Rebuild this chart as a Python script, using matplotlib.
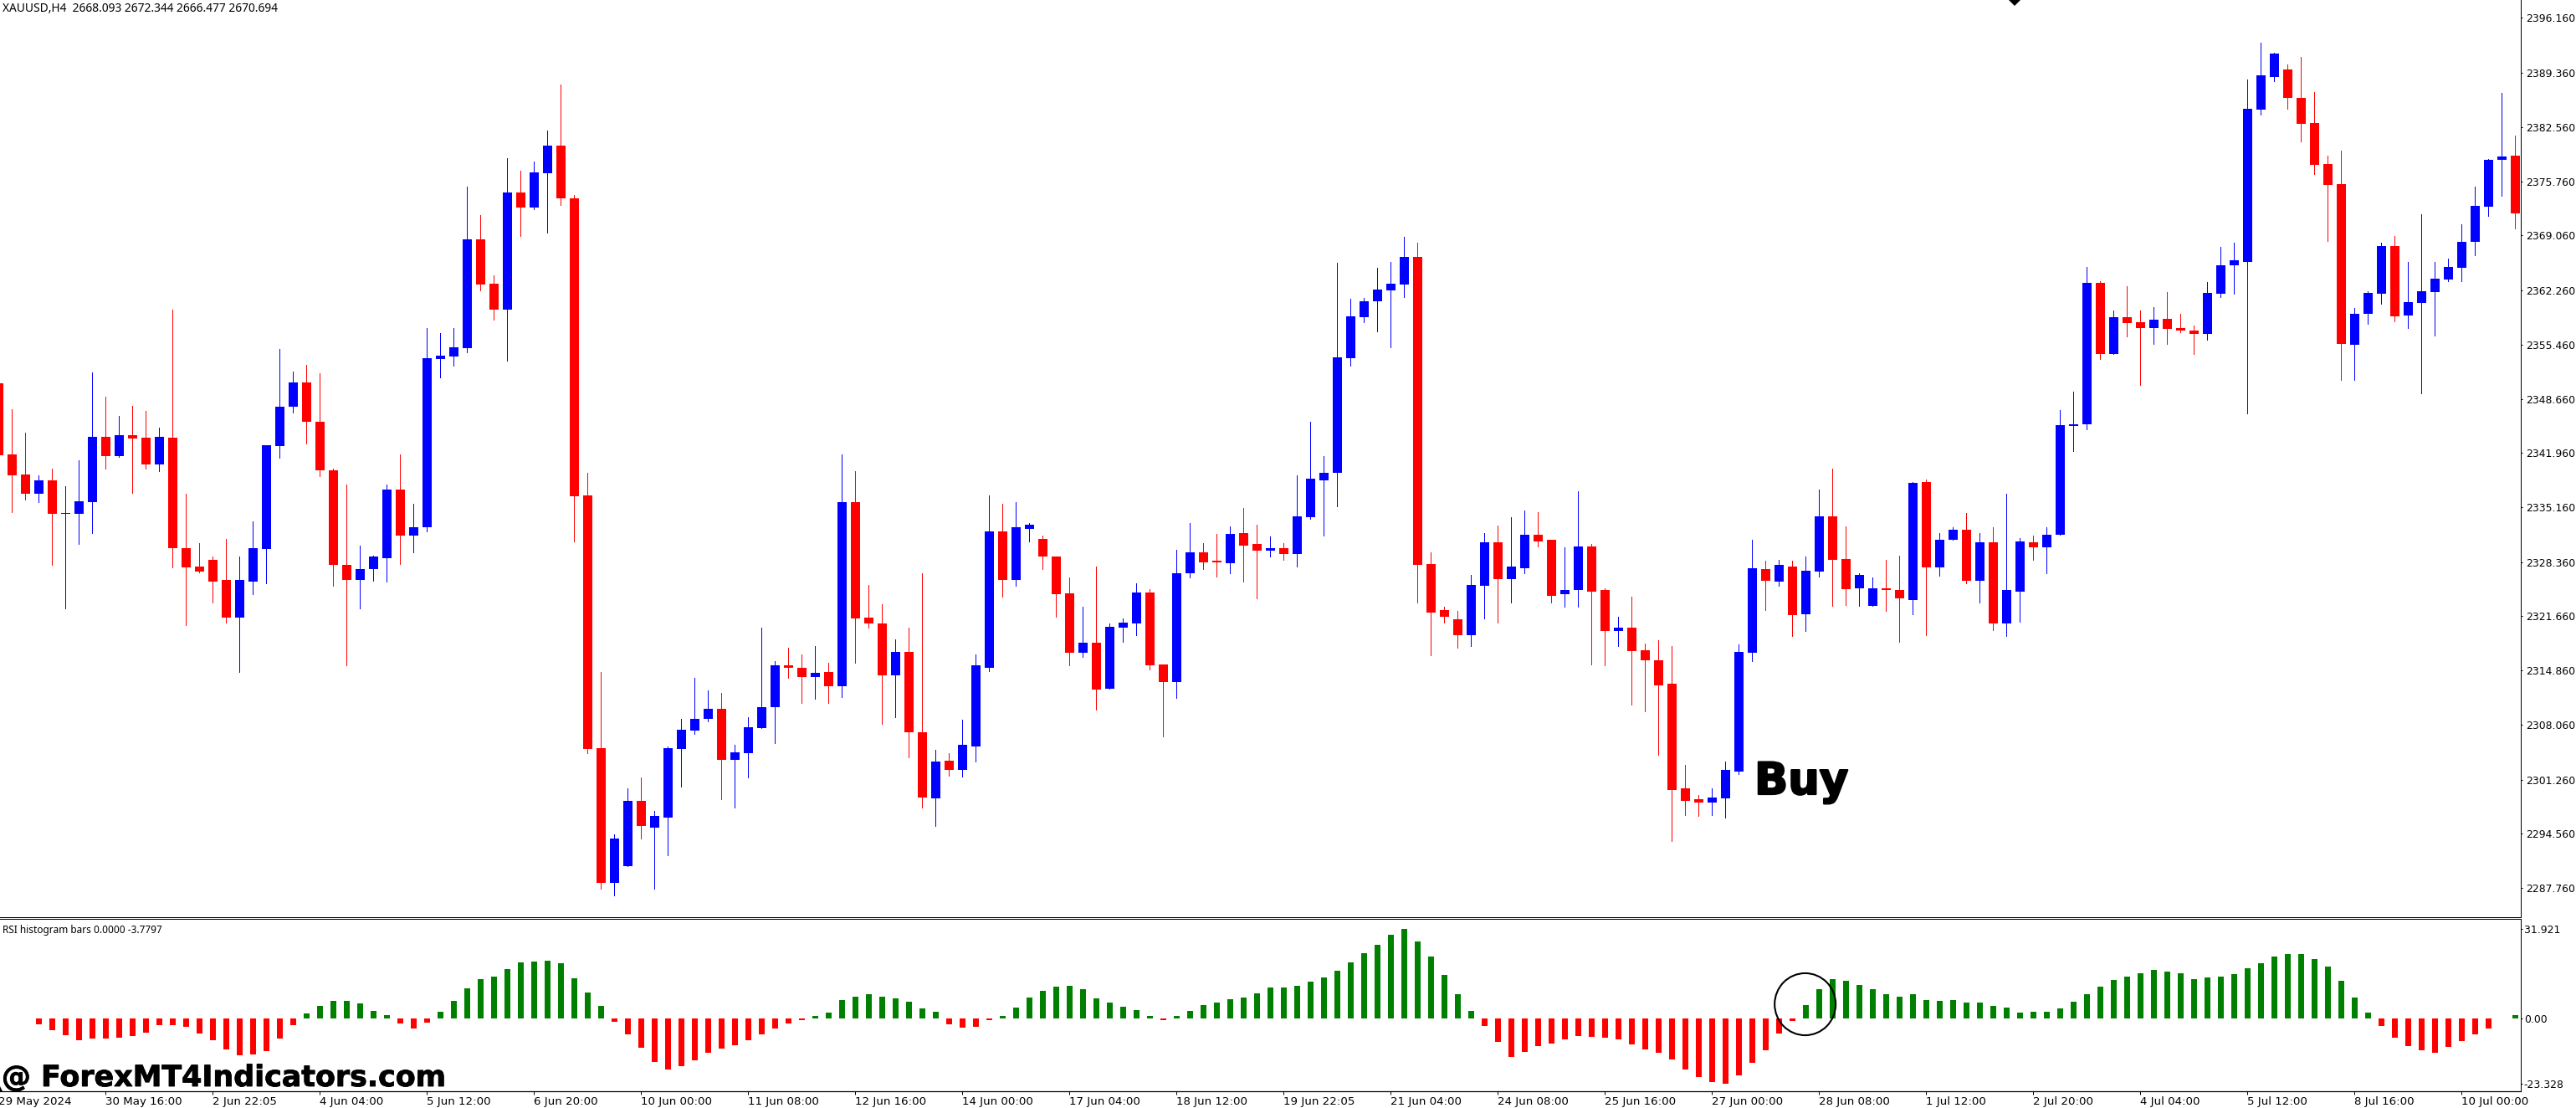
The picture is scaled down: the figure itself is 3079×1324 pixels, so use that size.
import matplotlib
matplotlib.use("Agg")
import matplotlib.pyplot as plt
import matplotlib.patheffects as pe
from matplotlib.patches import Ellipse
import numpy as np

W, H = 3079, 1324

# XAUUSD H4 candles
opens = [
    2350.67, 2341.81, 2339.28, 2336.82, 2338.53, 2334.36, 2334.36, 2335.85, 2343.97, 2341.59,
    2344.12, 2343.89, 2340.47, 2343.89, 2330.12, 2327.81, 2328.63, 2326.17, 2321.48, 2325.95,
    2330.04, 2342.85, 2347.76, 2350.74, 2345.83, 2339.80, 2328.03, 2326.17, 2327.44, 2328.85,
    2337.34, 2331.68, 2332.65, 2353.65, 2354.02, 2355.06, 2368.61, 2363.03, 2359.82, 2374.42,
    2372.56, 2376.80, 2380.22, 2373.67, 2336.67, 2305.18, 2288.36, 2290.51, 2298.63, 2295.28,
    2296.54, 2305.03, 2307.41, 2308.83, 2310.09, 2303.76, 2304.58, 2307.64, 2310.24, 2315.53,
    2315.23, 2314.04, 2314.71, 2312.92, 2335.78, 2321.48, 2320.74, 2314.26, 2317.17, 2307.19,
    2298.92, 2303.62, 2302.42, 2305.40, 2315.23, 2332.20, 2326.17, 2332.50, 2331.24, 2329.08,
    2324.46, 2317.02, 2318.36, 2312.62, 2320.22, 2320.74, 2324.61, 2315.60, 2313.37, 2326.99,
    2329.52, 2328.48, 2328.26, 2331.98, 2330.57, 2329.82, 2330.12, 2329.37, 2333.99, 2338.53,
    2339.43, 2353.79, 2358.86, 2360.87, 2362.21, 2362.95, 2366.38, 2328.11, 2322.38, 2321.26,
    2319.25, 2325.43, 2330.86, 2326.25, 2327.59, 2331.76, 2331.09, 2324.31, 2324.83, 2330.34,
    2324.91, 2319.77, 2320.14, 2317.39, 2316.12, 2313.22, 2300.12, 2298.85, 2298.40, 2298.92,
    2302.28, 2317.02, 2327.51, 2325.95, 2327.81, 2321.85, 2327.22, 2334.07, 2328.78, 2325.13,
    2322.90, 2325.13, 2324.91, 2323.64, 2338.38, 2327.74, 2331.09, 2332.43, 2326.02, 2330.86,
    2320.74, 2324.68, 2330.86, 2330.19, 2331.76, 2345.31, 2345.53, 2363.18, 2354.32, 2358.86,
    2358.26, 2357.52, 2358.71, 2357.52, 2357.22, 2356.77, 2361.84, 2365.33, 2365.78, 2384.77,
    2388.79, 2389.75, 2386.18, 2383.05, 2377.99, 2375.46, 2355.43, 2359.30, 2361.84, 2367.72,
    2359.08, 2360.64, 2361.98, 2363.55, 2365.04, 2368.24, 2372.63, 2378.51, 2379.03,
]
highs = [
    2350.67, 2347.39, 2344.49, 2339.20, 2340.02, 2337.86, 2341.06, 2352.01, 2348.96, 2346.57,
    2347.84, 2347.24, 2345.16, 2359.82, 2336.89, 2330.71, 2329.00, 2331.24, 2329.00, 2333.47,
    2342.92, 2354.91, 2352.08, 2352.98, 2351.93, 2339.95, 2338.01, 2330.42, 2329.15, 2338.01,
    2341.81, 2335.63, 2357.52, 2356.92, 2357.52, 2375.16, 2371.59, 2364.07, 2378.66, 2377.10,
    2378.29, 2382.16, 2387.89, 2374.12, 2339.50, 2314.71, 2294.46, 2300.19, 2301.53, 2297.36,
    2305.33, 2308.83, 2313.96, 2312.33, 2312.10, 2305.63, 2309.05, 2320.14, 2315.97, 2317.69,
    2316.87, 2317.91, 2315.82, 2341.81, 2339.72, 2325.50, 2323.12, 2318.73, 2320.14, 2326.92,
    2304.96, 2304.51, 2308.75, 2316.87, 2336.67, 2335.63, 2335.78, 2333.25, 2331.68, 2329.08,
    2326.40, 2322.75, 2327.81, 2320.74, 2321.33, 2325.73, 2324.98, 2315.60, 2329.90, 2333.25,
    2330.71, 2331.91, 2332.80, 2335.11, 2333.02, 2331.53, 2330.71, 2339.20, 2345.83, 2341.59,
    2365.63, 2361.16, 2361.31, 2365.04, 2365.78, 2368.91, 2368.16, 2329.52, 2322.75, 2322.30,
    2326.77, 2331.98, 2332.95, 2333.99, 2334.81, 2334.59, 2331.09, 2330.19, 2337.19, 2330.64,
    2325.13, 2321.56, 2324.09, 2318.21, 2318.58, 2317.91, 2303.09, 2299.37, 2300.19, 2303.54,
    2318.06, 2331.09, 2328.48, 2328.63, 2328.48, 2329.00, 2337.34, 2340.02, 2332.80, 2326.99,
    2326.40, 2328.63, 2329.15, 2338.38, 2338.68, 2331.98, 2332.73, 2334.51, 2331.98, 2332.65,
    2336.89, 2331.38, 2331.61, 2332.65, 2347.32, 2349.63, 2365.11, 2363.32, 2359.75, 2362.73,
    2359.75, 2360.12, 2361.98, 2359.30, 2357.81, 2363.25, 2367.64, 2368.16, 2388.49, 2393.10,
    2391.84, 2390.35, 2391.32, 2386.92, 2379.03, 2379.63, 2359.97, 2362.13, 2368.16, 2368.98,
    2365.78, 2371.74, 2365.78, 2366.15, 2370.47, 2375.16, 2378.59, 2386.85, 2381.49,
]
lows = [
    2341.66, 2334.59, 2336.15, 2335.85, 2328.03, 2322.60, 2330.64, 2331.98, 2339.95, 2341.44,
    2336.97, 2339.95, 2339.72, 2327.74, 2320.52, 2327.07, 2323.34, 2320.81, 2314.71, 2324.39,
    2325.73, 2341.36, 2347.02, 2343.15, 2339.05, 2325.35, 2315.53, 2322.60, 2326.02, 2325.95,
    2328.11, 2329.52, 2332.20, 2351.41, 2352.83, 2354.54, 2362.21, 2358.56, 2353.50, 2368.98,
    2372.33, 2369.43, 2372.85, 2330.94, 2304.51, 2287.61, 2286.79, 2290.44, 2293.94, 2287.68,
    2291.85, 2300.41, 2306.97, 2308.53, 2298.85, 2297.73, 2301.53, 2307.64, 2305.85, 2313.96,
    2310.76, 2311.28, 2310.84, 2311.58, 2315.82, 2320.14, 2308.16, 2309.05, 2303.99, 2297.81,
    2295.50, 2301.75, 2301.60, 2303.54, 2314.78, 2324.09, 2325.43, 2330.94, 2327.51, 2321.56,
    2315.53, 2316.57, 2310.02, 2312.62, 2318.43, 2319.25, 2315.01, 2306.59, 2311.43, 2326.47,
    2327.51, 2326.55, 2326.92, 2325.88, 2323.79, 2329.00, 2328.63, 2327.81, 2333.77, 2331.61,
    2335.33, 2352.83, 2358.26, 2357.14, 2355.13, 2361.39, 2323.34, 2316.79, 2320.81, 2317.69,
    2317.91, 2321.33, 2320.81, 2323.34, 2326.92, 2330.34, 2323.34, 2322.75, 2322.82, 2315.60,
    2315.53, 2317.91, 2310.61, 2309.72, 2304.36, 2293.64, 2296.84, 2296.77, 2296.84, 2296.47,
    2301.98, 2316.05, 2322.38, 2325.43, 2319.10, 2319.77, 2326.55, 2322.90, 2323.05, 2322.90,
    2322.90, 2322.23, 2318.43, 2321.85, 2319.25, 2326.70, 2331.09, 2325.73, 2323.34, 2319.92,
    2319.10, 2320.96, 2328.63, 2326.92, 2331.76, 2342.18, 2344.93, 2353.65, 2354.32, 2356.47,
    2350.44, 2355.58, 2355.58, 2357.00, 2354.32, 2356.10, 2361.39, 2361.84, 2346.87, 2384.10,
    2388.26, 2384.84, 2380.75, 2376.73, 2368.39, 2351.04, 2351.04, 2358.04, 2360.57, 2358.34,
    2357.52, 2349.40, 2356.62, 2363.40, 2363.40, 2366.60, 2371.51, 2373.97, 2369.88,
]
closes = [
    2341.66, 2339.20, 2336.82, 2338.53, 2334.36, 2334.51, 2335.93, 2343.97, 2341.59, 2344.12,
    2343.74, 2340.47, 2343.97, 2330.12, 2327.74, 2327.22, 2325.95, 2321.48, 2326.17, 2330.12,
    2342.92, 2347.76, 2350.74, 2345.83, 2339.80, 2327.96, 2326.17, 2327.51, 2329.00, 2337.34,
    2331.68, 2332.73, 2353.79, 2354.09, 2355.13, 2368.61, 2362.95, 2359.82, 2374.42, 2372.56,
    2376.95, 2380.22, 2373.67, 2336.60, 2305.03, 2288.43, 2293.94, 2298.63, 2295.43, 2296.69,
    2305.18, 2307.49, 2308.83, 2310.09, 2303.76, 2304.66, 2307.78, 2310.32, 2315.45, 2315.15,
    2314.04, 2314.56, 2312.92, 2335.78, 2321.33, 2320.66, 2314.26, 2317.17, 2307.11, 2299.07,
    2303.54, 2302.42, 2305.63, 2315.45, 2332.20, 2326.17, 2332.65, 2333.02, 2329.00, 2324.39,
    2317.09, 2318.36, 2312.47, 2320.29, 2320.81, 2324.61, 2315.53, 2313.37, 2326.99, 2329.52,
    2328.33, 2328.33, 2331.91, 2330.42, 2329.82, 2330.12, 2329.37, 2334.07, 2338.76, 2339.43,
    2353.87, 2359.01, 2360.87, 2362.36, 2363.03, 2366.38, 2327.96, 2322.08, 2321.56, 2319.25,
    2325.50, 2330.86, 2326.25, 2327.81, 2331.76, 2330.94, 2324.16, 2324.91, 2330.34, 2324.68,
    2319.77, 2320.22, 2317.31, 2316.12, 2313.00, 2299.97, 2298.63, 2298.40, 2299.07, 2302.42,
    2317.17, 2327.59, 2326.02, 2327.96, 2321.78, 2327.29, 2334.07, 2328.63, 2324.98, 2326.77,
    2325.13, 2324.83, 2323.79, 2338.23, 2327.74, 2331.09, 2332.43, 2326.02, 2330.86, 2320.74,
    2324.91, 2330.94, 2330.19, 2331.76, 2345.46, 2345.53, 2363.18, 2354.32, 2358.86, 2358.19,
    2357.52, 2358.56, 2357.44, 2357.22, 2356.77, 2361.91, 2365.33, 2366.00, 2384.84, 2389.01,
    2391.69, 2386.18, 2382.98, 2377.84, 2375.39, 2355.58, 2359.30, 2361.91, 2367.72, 2359.01,
    2360.79, 2362.13, 2363.70, 2365.11, 2368.24, 2372.78, 2378.51, 2378.88, 2371.81,
]

# RSI histogram, first value sits under candle 3
rsi_start = 3
rsi_values = [
    -2.09, -4.17, -5.96, -7.75, -7.16, -7.16, -6.86, -6.26, -5.07, -2.39,
    -2.39, -2.98, -5.37, -7.75, -11.03, -13.12, -12.82, -11.63, -7.16, -2.39,
    1.79, 4.47, 6.26, 6.26, 5.37, 2.68, 1.19, -1.79, -3.58, -1.49,
    2.39, 6.26, 10.74, 14.02, 14.91, 17.59, 19.98, 20.28, 20.58, 19.68,
    14.31, 9.24, 4.47, -1.19, -5.67, -10.44, -15.51, -18.19, -17.00, -14.91,
    -12.23, -10.74, -9.54, -7.75, -5.67, -3.58, -1.79, -0.60, 0.89, 2.09,
    6.56, 7.75, 8.65, 7.75, 7.16, 5.96, 3.58, 2.39, -2.09, -3.28,
    -2.98, -0.60, 0.89, 3.88, 7.46, 9.84, 11.33, 11.63, 10.44, 7.16,
    5.67, 4.17, 2.98, 0.89, -0.60, 0.89, 2.68, 4.77, 5.67, 6.86,
    7.46, 8.95, 11.03, 11.03, 11.63, 13.12, 14.61, 17.00, 19.98, 23.26,
    26.24, 29.82, 31.92, 27.43, 22.07, 15.51, 8.65, 2.68, -2.68, -8.35,
    -13.72, -11.93, -9.84, -8.95, -7.46, -6.26, -6.56, -6.86, -7.46, -9.24,
    -11.03, -12.23, -14.61, -18.19, -20.87, -22.66, -23.26, -20.28, -15.80, -11.33,
    -5.37, -0.89, 4.77, 10.44, 14.02, 13.42, 11.93, 10.44, 8.65, 7.75,
    8.65, 6.56, 6.26, 6.56, 5.67, 5.67, 4.47, 3.88, 2.09, 2.39,
    2.39, 3.58, 5.96, 8.65, 11.33, 13.72, 14.91, 16.10, 17.30, 16.70,
    16.10, 14.02, 14.61, 14.91, 15.80, 17.89, 19.68, 22.07, 22.96, 22.96,
    21.17, 18.49, 13.42, 7.46, 2.09, -2.68, -6.86, -9.84, -11.33, -12.23,
    -10.14, -8.05, -5.67, -3.58, 0.15, 1.19,
]

price_ticks = [2396.16, 2389.36, 2382.56, 2375.76, 2369.06, 2362.26, 2355.46, 2348.66,
               2341.96, 2335.16, 2328.36, 2321.66, 2314.86, 2308.06, 2301.26, 2294.56, 2287.76]
rsi_ticks = [31.921, 0.0, -23.328]
rsi_tick_labels = ["31.921", "0.00", "-23.328"]
date_labels = ["29 May 2024", "30 May 16:00", "2 Jun 22:05", "4 Jun 04:00", "5 Jun 12:00", "6 Jun 20:00",
               "10 Jun 00:00", "11 Jun 08:00", "12 Jun 16:00", "14 Jun 00:00", "17 Jun 04:00", "18 Jun 12:00",
               "19 Jun 22:05", "21 Jun 04:00", "24 Jun 08:00", "25 Jun 16:00", "27 Jun 00:00", "28 Jun 08:00",
               "1 Jul 12:00", "2 Jul 20:00", "4 Jul 04:00", "5 Jul 12:00", "8 Jul 16:00", "10 Jul 00:00"]
date_every = 8

RED = "#FF0000"
BLUE = "#0000FF"
GREEN = "#008000"

fig = plt.figure(figsize=(W / 100, H / 100), dpi=100, facecolor="white")


def px_axes(left, top, right, bottom):
    return fig.add_axes([left / W, 1 - bottom / H, (right - left) / W, (bottom - top) / H])


ax = px_axes(0, 0, 3013, 1096)
ax2 = px_axes(0, 1098, 3013, 1304)

xlim = (0.094, 188.41)

# candles
idx = np.arange(len(opens))
o, h, l, c = map(np.array, (opens, highs, lows, closes))
colors = [BLUE if cc >= oo else RED for oo, cc in zip(o, c)]
ax.vlines(idx, l, h, colors=colors, linewidth=0.72, antialiased=False, zorder=2)
ax.bar(idx, np.abs(c - o), bottom=np.minimum(o, c), width=0.69, color=colors,
       linewidth=0, antialiased=False, zorder=3)
ax.set_xlim(*xlim)
ax.set_ylim(2284.11, 2398.39)
ax.yaxis.tick_right()
ax.set_yticks(price_ticks)
ax.set_yticklabels([f"{p:.3f}" for p in price_ticks])
ax.set_xticks([])
ax.tick_params(axis="y", length=1.5, width=0.72, pad=2.9, labelsize=8.9, color="black")
for s in ("top", "left"):
    ax.spines[s].set_visible(False)
ax.spines["right"].set_linewidth(0.72)
ax.spines["bottom"].set_linewidth(0.72)

# clipped arrow at the top edge
ax.plot([150.6], [2398.39], marker="D", ms=7.2, color="black", mew=0, zorder=4)

fig.text(3 / W, 1 - 10 / H, "XAUUSD,H4  2668.093 2672.344 2666.477 2670.694",
         fontsize=9.9, family="Noto Sans", va="center", ha="left")
fig.text(3 / W, 1 - 1111 / H, "RSI histogram bars 0.0000 -3.7797",
         fontsize=8.5, family="Noto Sans", va="center", ha="left")
fig.text(2097 / W, 1 - 949 / H, "Buy", fontsize=38, fontweight="bold", family="DejaVu Sans",
         va="baseline", ha="left", color="black",
         path_effects=[pe.withStroke(linewidth=1.6, foreground="black")])

# indicator
rsi_idx = np.arange(len(rsi_values)) + rsi_start
rsi_colors = [GREEN if v > 0 else RED for v in rsi_values]
ax2.bar(rsi_idx, rsi_values, width=0.42, color=rsi_colors, linewidth=0, antialiased=False)
ax2.add_patch(Ellipse((134.95, 5.07), 4.56, 22.1, fill=False, edgecolor="black", linewidth=1.5, zorder=5))
ax2.set_xlim(*xlim)
ax2.set_ylim(-25.94, 35.49)
ax2.yaxis.tick_right()
ax2.set_yticks(rsi_ticks)
ax2.set_yticklabels(rsi_tick_labels)
ax2.tick_params(axis="y", length=1.5, width=0.72, pad=1.2, labelsize=8.9)
ax2.spines["left"].set_visible(False)
ax2.spines["top"].set_linewidth(0.72)
ax2.spines["right"].set_linewidth(0.72)
ax2.spines["bottom"].set_linewidth(0.9)

date_pos = [i * date_every for i in range(len(date_labels))]
ax2.set_xticks(date_pos[1:])
ax2.set_xticklabels([""] * (len(date_pos) - 1))
ax2.tick_params(axis="x", length=3, width=0.72)
for pos, lab in zip(date_pos, date_labels):
    ax2.text(pos, -0.063, lab, transform=ax2.get_xaxis_transform(), fontsize=9.6, va="center", ha="left",
             clip_on=False)

# scrap of a mark under the @ in the corner
ax2.plot([0.094], [-25.94], marker="^", ms=8, color="black", mew=0, zorder=4)

fig.text(2 / W, 1 - 1298 / H, "@ ForexMT4Indicators.com", fontsize=25.1, fontweight="bold",
         family="DejaVu Sans", va="baseline", ha="left", color="black",
         path_effects=[pe.withStroke(linewidth=0.6, foreground="black")])

fig.savefig("out.png", dpi=100)
